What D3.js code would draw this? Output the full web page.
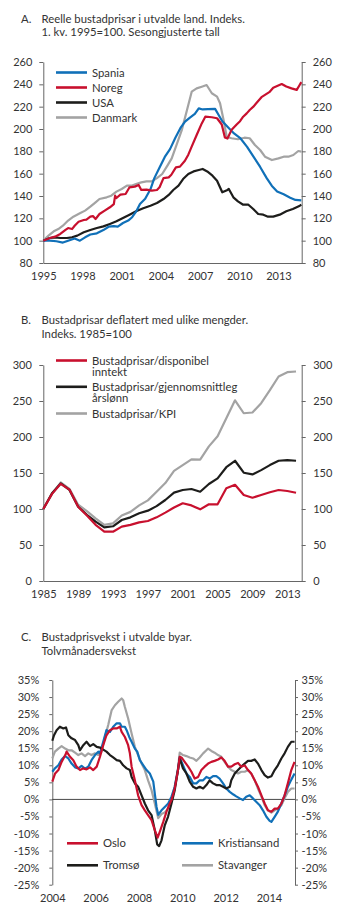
<!DOCTYPE html>
<html>
<head>
<meta charset="utf-8">
<script src="https://cdn.jsdelivr.net/npm/d3@7"></script>
<style>
  body { margin: 0; background: #fff; }
  svg { display: block; font-family: Lato, "Open Sans", sans-serif; }
  .title { font-size: 11.3px; fill: #333; }
  .axis text { font-size: 11px; fill: #333; font-family: Lato, sans-serif; }
  .axis path, .axis line { stroke: #666; }
  .legend text { font-size: 11.3px; fill: #333; }
  .series { fill: none; stroke-width: 2.2; stroke-linejoin: round; }
</style>
</head>
<body>
<svg width="345" height="914"></svg>
<script>
const svg = d3.select("svg");

const colBlue = "#1070b8";
const colRed = "#c8102e";
const colBlack = "#1d1d1b";
const colGrey = "#a3a3a3";

// ---- A: real house prices, [year, index] ----
const spania = [[1995.0,100],[1995.5,100],[1996.0,99.5],[1996.5,98.3],[1996.9,100],[1997.4,102],[1997.8,100],[1998.2,103],[1998.6,105.5],[1999.1,106.6],[1999.6,109.5],[2000.0,112.5],[2000.4,113],[2000.7,112.5],[2001.1,115.8],[2001.5,118],[2001.8,121],[2002.1,126],[2002.4,132.8],[2002.8,137.5],[2003.2,146],[2003.5,156],[2003.9,165.5],[2004.3,175],[2004.7,182],[2005.1,192],[2005.5,201],[2005.85,206.6],[2006.2,210],[2006.6,213.5],[2006.9,218.5],[2007.2,217.5],[2007.6,217.8],[2008.15,218],[2008.4,213],[2008.7,207],[2009.1,202],[2009.6,196],[2010.1,191.5],[2010.6,184],[2011.1,175],[2011.6,166],[2012.1,156],[2012.5,149],[2012.9,144],[2013.4,141.5],[2013.9,138.5],[2014.3,136.5],[2014.75,136]];
const noreg = [[1995.0,100],[1995.5,102.4],[1995.9,103.6],[1996.3,106],[1996.7,109.6],[1996.9,111.3],[1997.2,110.4],[1997.4,113.4],[1997.7,117],[1998.1,118.5],[1998.3,118.8],[1998.6,121.5],[1998.8,122],[1999.0,119.4],[1999.3,123.9],[1999.7,126.9],[2000.1,129.9],[2000.4,132.8],[2000.5,140.3],[2000.6,138.2],[2000.9,141.2],[2001.3,141.8],[2001.6,147.8],[2002.0,148.4],[2002.3,149.9],[2002.5,145.4],[2002.9,145.7],[2003.3,144.8],[2003.7,145.4],[2003.9,147.8],[2004.2,156],[2004.6,156.7],[2004.8,159],[2005.15,165.7],[2005.46,166.3],[2005.84,171.5],[2006.1,177],[2006.35,184],[2006.74,194.6],[2007.13,205],[2007.4,211],[2007.9,210.5],[2008.3,209.6],[2008.66,204],[2008.9,192.5],[2009.1,191.5],[2009.4,199],[2009.8,204],[2010.06,207],[2010.3,211],[2010.57,214],[2010.8,217],[2011.08,220],[2011.3,223],[2011.7,228.5],[2011.97,230.5],[2012.3,233],[2012.6,237],[2012.9,238.5],[2013.25,240.3],[2013.6,238],[2014.0,236.4],[2014.4,235],[2014.6,239],[2014.75,242]];
const usa = [[1995.0,100],[1995.5,102.4],[1995.9,103],[1996.3,102.4],[1996.8,102.4],[1997.2,103],[1997.6,104.5],[1998.1,107.5],[1998.6,109.6],[1999.1,111.3],[1999.6,112.8],[2000.1,115],[2000.6,117.3],[2001.1,120.3],[2001.6,123.3],[2002.1,126.3],[2002.65,129],[2003.2,131.3],[2003.7,133.7],[2004.2,137.3],[2004.6,141],[2004.95,145.4],[2005.35,149.3],[2005.7,155.2],[2006.1,159.7],[2006.5,162],[2006.9,163.3],[2007.2,164.2],[2007.55,162],[2007.95,158.2],[2008.3,153.7],[2008.7,143.3],[2009.1,145.4],[2009.2,146.3],[2009.55,138.8],[2009.9,135.2],[2010.3,132.2],[2010.7,132.2],[2011.07,128.4],[2011.45,123.9],[2011.84,123.3],[2012.2,121.5],[2012.6,121.5],[2013.1,123.3],[2013.6,126.3],[2014.1,128.4],[2014.64,131.3],[2014.75,132.2]];
const danmark = [[1995.0,100],[1995.4,104.5],[1995.8,108.4],[1996.15,110.4],[1996.5,113.4],[1996.9,118],[1997.3,121.5],[1997.8,124.5],[1998.2,126.9],[1998.6,130.4],[1999.0,134.3],[1999.3,137.3],[1999.85,138.8],[2000.2,140.3],[2000.6,143.9],[2001.0,146.3],[2001.4,149.3],[2001.8,149.3],[2002.1,150.7],[2002.5,152.2],[2002.9,153.1],[2003.3,153.1],[2003.7,156],[2004.1,159.7],[2004.5,167.2],[2004.83,173.7],[2005.2,185.7],[2005.6,199],[2006.0,217],[2006.36,233.4],[2006.74,236.4],[2007.13,237.9],[2007.5,239.4],[2007.9,232],[2008.3,229],[2008.53,223],[2008.8,208],[2009.04,193],[2009.4,191.7],[2009.9,190.8],[2010.4,192.2],[2010.8,191.7],[2011.2,185.7],[2011.6,181.2],[2011.97,175.2],[2012.5,172.2],[2013.0,173.7],[2013.4,175.2],[2013.76,175.2],[2014.14,176.7],[2014.52,180.3],[2014.75,179.7]];
const seriesA = ["Spania", "Noreg", "USA", "Danmark"];
const ticksA = [80, 100, 120, 140, 160, 180, 200, 220, 240, 260];
const yearsA = [1995, 1998, 2001, 2004, 2007, 2010, 2013];

// ---- B: deflated house prices, yearly 1985-2014 ----
const yearsB = d3.range(1985, 2015);
const perInntekt = [100,121,135,127,103,91,78,68.5,68.5,75.5,78,81.5,83.3,88.4,95,102,108,105,99.5,106.5,106.5,128.7,133.6,119.4,115.7,119.4,123.2,126.4,125,122.6];
const perLonn = [100,121.8,135.6,126.4,103.2,92,82.4,74.5,76,84.7,88.4,94,97.7,104,112.5,122.7,126.4,127.8,124,134.7,142.6,158,167,150.4,148,154,161,167,168,167];
const perKpi = [100,121,137,128,106,97,87,78,80,91,96,105,112,124,136,153,161,169,168.5,187,201,226,251,233,234,247,265,284,290,291];
const seriesB = [["Bustadprisar/disponibel", "inntekt"], ["Bustadprisar/gjennomsnittleg", "årslønn"], ["Bustadprisar/KPI"]];
const ticksB = [0, 50, 100, 150, 200, 250, 300];
const yearTicksB = [1985, 1989, 1993, 1997, 2001, 2005, 2009, 2013];

// ---- C: twelve-month growth, [year, per cent] ----
const oslo = [[2004.0,5.2],[2004.13,7.6],[2004.28,8.6],[2004.43,11],[2004.6,13],[2004.66,14],[2004.82,12.5],[2004.97,11.5],[2005.12,9.6],[2005.28,8.6],[2005.43,9.1],[2005.58,8.8],[2005.74,9.4],[2005.89,8.6],[2006.05,9.6],[2006.2,12.5],[2006.35,15.9],[2006.5,18.8],[2006.66,20.3],[2006.81,20.8],[2006.97,20.8],[2007.12,21.3],[2007.2,19.8],[2007.35,18.3],[2007.5,15.9],[2007.58,13.5],[2007.66,9.6],[2007.81,5.6],[2007.96,1.2],[2008.12,-1.7],[2008.27,-3.2],[2008.42,-4.6],[2008.58,-6.1],[2008.73,-9],[2008.86,-11.2],[2008.96,-9.5],[2009.12,-6.6],[2009.27,-3.6],[2009.42,-1.2],[2009.5,-0.2],[2009.65,3.2],[2009.8,8.6],[2009.88,12.5],[2009.96,12.3],[2010.11,11],[2010.27,9.6],[2010.42,8.1],[2010.57,6.1],[2010.73,6.6],[2010.88,8.6],[2011.03,9.6],[2011.19,10.5],[2011.34,11],[2011.49,11.3],[2011.65,11.7],[2011.8,12.3],[2011.95,11.3],[2012.11,9.6],[2012.26,9.6],[2012.42,10.3],[2012.57,10.7],[2012.72,9.6],[2012.88,10],[2013.03,8.6],[2013.18,7.6],[2013.34,5.6],[2013.49,3.7],[2013.65,1.2],[2013.8,-1.2],[2013.95,-3.2],[2014.11,-3.6],[2014.26,-2.7],[2014.41,-2.7],[2014.57,-1.2],[2014.72,1.2],[2014.87,4.7],[2015.03,8.6],[2015.18,11]];
const kristiansand = [[2004.0,8.1],[2004.12,9.1],[2004.28,10],[2004.43,11.7],[2004.59,12.7],[2004.74,12],[2004.89,10.5],[2005.05,9.4],[2005.2,9.1],[2005.35,9.8],[2005.51,9],[2005.66,9.6],[2005.81,11.5],[2005.97,13],[2006.12,14],[2006.2,13.5],[2006.35,16.9],[2006.5,20.3],[2006.66,19.8],[2006.81,21.3],[2006.97,22.3],[2007.12,22.3],[2007.2,21.3],[2007.35,21.3],[2007.43,20.3],[2007.55,18.3],[2007.66,16.9],[2007.81,14.9],[2007.92,14],[2008.04,11.5],[2008.2,10],[2008.35,8.6],[2008.5,7.6],[2008.66,5.2],[2008.73,1.7],[2008.81,-2.2],[2008.89,-4.5],[2009.04,-3.2],[2009.19,-2.2],[2009.35,-1.2],[2009.5,0.8],[2009.65,3.7],[2009.8,8.6],[2009.88,12.3],[2010.03,10],[2010.19,7.6],[2010.34,6.6],[2010.5,4.7],[2010.65,4.7],[2010.8,5.6],[2010.96,5.6],[2011.11,6.6],[2011.26,6.1],[2011.42,6.8],[2011.57,6.8],[2011.72,6.1],[2011.88,4.7],[2012.03,3.2],[2012.19,2.2],[2012.34,1.5],[2012.49,0.9],[2012.65,0.3],[2012.8,-0.2],[2012.95,0.8],[2013.11,1.2],[2013.26,0.3],[2013.41,-0.7],[2013.57,-1.7],[2013.72,-3.2],[2013.88,-5.1],[2014.03,-6.3],[2014.11,-6.6],[2014.26,-5.1],[2014.41,-3.6],[2014.57,-1.2],[2014.72,1.2],[2014.87,3.7],[2015.03,5.8],[2015.18,7.6]];
const tromso = [[2004.0,17.2],[2004.08,18.8],[2004.2,20.3],[2004.35,21.3],[2004.51,20.8],[2004.63,21.1],[2004.74,18.8],[2004.89,17.9],[2005.05,17.4],[2005.2,15.9],[2005.28,14.4],[2005.43,15.9],[2005.58,16.9],[2005.74,15.6],[2005.89,16.2],[2006.05,15.4],[2006.2,15.2],[2006.35,14.6],[2006.5,14],[2006.66,13],[2006.81,12.3],[2006.97,11.5],[2007.12,11.3],[2007.27,10],[2007.43,9.1],[2007.58,8.6],[2007.66,6.6],[2007.81,4.7],[2007.96,3.7],[2008.12,1.2],[2008.27,-1.2],[2008.42,-3.2],[2008.58,-4.6],[2008.73,-9],[2008.84,-13.2],[2008.93,-13.7],[2009.04,-12],[2009.19,-7.6],[2009.34,-5.1],[2009.5,-1.2],[2009.65,2.7],[2009.8,8.6],[2009.88,12],[2010.03,9.1],[2010.19,7.6],[2010.34,5.2],[2010.5,3.7],[2010.65,3.2],[2010.8,3.7],[2010.96,3.2],[2011.11,4.2],[2011.26,5.6],[2011.42,4.7],[2011.57,4.2],[2011.72,4.2],[2011.88,3.7],[2012.03,3.2],[2012.19,3.7],[2012.26,5.6],[2012.42,7.6],[2012.57,8.6],[2012.72,9.6],[2012.88,10.5],[2013.03,11.3],[2013.18,11.3],[2013.34,11.7],[2013.49,10.5],[2013.65,8.6],[2013.8,7.1],[2013.95,6.4],[2014.11,6.8],[2014.26,8.6],[2014.41,10],[2014.57,12],[2014.72,13.5],[2014.87,15.4],[2015.03,16.9],[2015.18,16.9]];
const stavanger = [[2004.0,12],[2004.12,14],[2004.28,14.9],[2004.43,15.6],[2004.59,14.9],[2004.74,14.4],[2004.89,14.4],[2005.05,13.7],[2005.2,13],[2005.35,13.5],[2005.51,12.7],[2005.66,13.5],[2005.81,13],[2005.97,13.5],[2006.12,13],[2006.27,14],[2006.43,18.3],[2006.58,21.8],[2006.74,26.2],[2006.89,27.6],[2007.04,28.6],[2007.2,29.6],[2007.27,29.1],[2007.35,27.1],[2007.5,23.7],[2007.66,19.3],[2007.81,15.4],[2007.96,13],[2008.12,10.5],[2008.27,8.6],[2008.42,5.6],[2008.58,2.7],[2008.73,-1.2],[2008.89,-5.5],[2009.04,-4.3],[2009.19,-3.8],[2009.34,-2.7],[2009.5,-0.2],[2009.65,3.7],[2009.8,9.1],[2009.88,13.7],[2010.03,13],[2010.19,12.7],[2010.34,12.3],[2010.5,12],[2010.65,11.3],[2010.8,12.3],[2010.96,13.5],[2011.11,14.4],[2011.19,14.9],[2011.34,14.2],[2011.49,13.7],[2011.65,13],[2011.8,12.5],[2011.95,11],[2012.11,9.6],[2012.26,8.6],[2012.42,8.1],[2012.57,7.6],[2012.72,8.1],[2012.88,8.1],[2013.03,8.6],[2013.18,7.6],[2013.34,5.6],[2013.49,3.2],[2013.65,0.8],[2013.8,-1.7],[2013.95,-3.2],[2014.11,-3.9],[2014.26,-3.2],[2014.41,-2.7],[2014.57,-1.7],[2014.72,0.3],[2014.87,2.2],[2015.03,3.2],[2015.18,3.2]];
const ticksC = [-25, -20, -15, -10, -5, 0, 5, 10, 15, 20, 25, 30, 35];
const yearsC = [2004, 2006, 2008, 2010, 2012, 2014];

// two-line title with the panel letter hanging left
function title(letter, lines, y) {
  svg.append("text").attr("class", "title").attr("x", 21).attr("y", y).text(letter);
  const t = svg.append("text").attr("class", "title").attr("y", y);
  lines.forEach((l, i) => {
    t.append("tspan").attr("x", 41.5).attr("dy", i ? 13.6 : 0).text(l);
  });
}

// left + right value axes and the bottom year axis
function axes(x, y, yTicks, fmt, xTicks, opt) {
  const [x0, x1] = x.range();
  const [yb, yt] = y.range();
  svg.append("g").attr("class", "axis")
    .attr("transform", `translate(${x0},0)`)
    .call(d3.axisLeft(y).tickValues(yTicks).tickFormat(fmt)
      .tickSizeInner(opt.tick).tickSizeOuter(0).tickPadding(opt.padL));
  svg.append("g").attr("class", "axis")
    .attr("transform", `translate(${x1},0)`)
    .call(d3.axisRight(y).tickValues(yTicks).tickFormat(fmt)
      .tickSizeInner(opt.tick).tickSizeOuter(0).tickPadding(opt.padR));
  const bx = svg.append("g").attr("class", "axis")
    .attr("transform", `translate(0,${yb})`)
    .call(d3.axisBottom(x).tickValues(xTicks).tickFormat(d3.format("d"))
      .tickSize(0).tickPadding(9.5));
  if (!opt.baseLine) bx.select(".domain").remove();
}

function draw(x, y, data, color) {
  const line = d3.line().x(d => x(d[0])).y(d => y(d[1]));
  svg.append("path").attr("class", "series")
    .attr("stroke", color).attr("d", line(data));
}

// legend swatch; a wrapped label stays one text element
function legendItem(x, y, color, lines) {
  const g = svg.append("g").attr("class", "legend");
  g.append("line").attr("x1", x).attr("x2", x + 31).attr("y1", y).attr("y2", y)
    .attr("stroke", color).attr("stroke-width", 2.6);
  const t = g.append("text").attr("y", y + 4);
  lines.forEach((l, i) => {
    t.append("tspan").attr("x", x + 36).attr("dy", i ? 11.5 : 0).text(l);
  });
}

// ---------- Panel A ----------
title("A.", ["Reelle bustadprisar i utvalde land. Indeks.", "1. kv. 1995=100. Sesongjusterte tall"], 22.5);
const xA = d3.scaleLinear().domain([1995, 2014.78]).range([43.3, 301.7]);
const yA = d3.scaleLinear().domain([80, 260]).range([263, 62]);
axes(xA, yA, ticksA, d3.format("d"), yearsA, {tick: 4, padL: 7, padR: 7, baseLine: true});
draw(xA, yA, danmark, colGrey);
draw(xA, yA, usa, colBlack);
draw(xA, yA, spania, colBlue);
draw(xA, yA, noreg, colRed);
[colBlue, colRed, colBlack, colGrey].forEach((c, i) => legendItem(56, 72.5 + i * 15, c, [seriesA[i]]));

// ---------- Panel B ----------
title("B.", ["Bustadprisar deflatert med ulike mengder.", "Indeks. 1985=100"], 324);
const xB = d3.scaleLinear().domain([1985, 2014.65]).range([43.3, 301.7]);
const yB = d3.scaleLinear().domain([0, 300]).range([581, 365]);
axes(xB, yB, ticksB, d3.format("d"), yearTicksB, {tick: 4, padL: 7.5, padR: 7.5, baseLine: true});
const zipB = vals => yearsB.map((yr, i) => [yr, vals[i]]);
draw(xB, yB, zipB(perKpi), colGrey);
draw(xB, yB, zipB(perLonn), colBlack);
draw(xB, yB, zipB(perInntekt), colRed);
legendItem(56, 360.5, colRed, seriesB[0]);
legendItem(56, 386.8, colBlack, seriesB[1]);
legendItem(56, 413.5, colGrey, seriesB[2]);

// ---------- Panel C ----------
title("C.", ["Bustadprisvekst i utvalde byar.", "Tolvmånadersvekst"], 641);
const xC = d3.scaleLinear().domain([2004, 2015.2]).range([52.3, 295]);
const yC = d3.scaleLinear().domain([-25, 35]).range([884.7, 680]);
axes(xC, yC, ticksC, d => d + "%", yearsC, {tick: 3, padL: 10, padR: 3.5, baseLine: false});
svg.append("line").attr("x1", xC.range()[0]).attr("x2", xC.range()[1])
  .attr("y1", yC(0)).attr("y2", yC(0)).attr("stroke", "#333").attr("stroke-width", 0.9);
draw(xC, yC, stavanger, colGrey);
draw(xC, yC, kristiansand, colBlue);
draw(xC, yC, tromso, colBlack);
draw(xC, yC, oslo, colRed);
legendItem(67, 843.3, colRed, ["Oslo"]);
legendItem(182, 843.3, colBlue, ["Kristiansand"]);
legendItem(67, 865.3, colBlack, ["Tromsø"]);
legendItem(182, 865.3, colGrey, ["Stavanger"]);
</script>
</body>
</html>
